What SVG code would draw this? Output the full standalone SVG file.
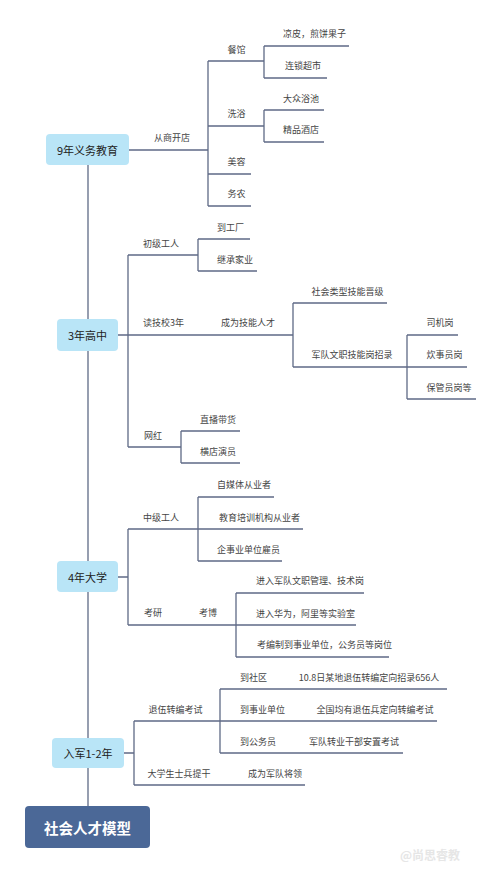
<svg xmlns="http://www.w3.org/2000/svg" width="500" height="873" viewBox="0 0 500 873">
<style>
.ln{stroke:#5f6a86;stroke-width:1.3;fill:none}
.t{font-family:"Noto Sans CJK SC","Liberation Sans",sans-serif;font-size:9px;fill:#444;dominant-baseline:central}
.c{text-anchor:middle}
.nb{fill:#b9e5f7}
.nt{font-family:"Noto Sans CJK SC","Liberation Sans",sans-serif;font-size:11px;fill:#222;text-anchor:middle;dominant-baseline:central}
</style>
<rect width="500" height="873" fill="#fff"/>
<g id="connectors">
<path class="ln" d="M88 165V806"/>
<!-- 9年 -->
<path class="ln" d="M129 150H208M208 61V206M208 61H264M208 126H264M208 174H251M208 206H251"/>
<path class="ln" d="M264 46V78M264 46H349M264 78H327"/>
<path class="ln" d="M264 110V142M264 110H324M264 142H324"/>
<!-- 3年高中 -->
<path class="ln" d="M118 335H128M128 255V447M128 255H198M128 335H293M128 447H181"/>
<path class="ln" d="M198 239V271M198 239H250M198 271H257"/>
<path class="ln" d="M293 303V367M293 303H387M293 367H407"/>
<path class="ln" d="M407 335V399M407 335H458M407 367H467M407 399H476"/>
<path class="ln" d="M181 431V463M181 431H240M181 463H240"/>
<!-- 4年大学 -->
<path class="ln" d="M118 577H128M128 529V625M128 529H198M128 625H236"/>
<path class="ln" d="M198 497V561M198 497H274M198 529H303M198 561H282"/>
<path class="ln" d="M236 593V657M236 593H364M236 625H356M236 657H389"/>
<!-- 入军 -->
<path class="ln" d="M124 753H134M134 721V785M134 721H220M134 785H305"/>
<path class="ln" d="M220 689V753M220 689H447M220 721H437M220 753H403"/>
</g>
<g id="n-9"><rect class="nb" x="46" y="134" width="83" height="31" rx="4"/><text class="nt" x="87.5" y="149.5">9年义务教育</text></g>
<g id="n-3"><rect class="nb" x="57" y="319" width="61" height="32" rx="4"/><text class="nt" x="87.5" y="335">3年高中</text></g>
<g id="n-4"><rect class="nb" x="57" y="561" width="61" height="31" rx="4"/><text class="nt" x="87.5" y="576.5">4年大学</text></g>
<g id="n-army"><rect class="nb" x="52" y="738" width="72" height="30" rx="4"/><text class="nt" x="88" y="753">入军1-2年</text></g>
<g id="n-root"><rect x="25" y="806" width="125" height="42" rx="4" fill="#4b6897"/><text class="nt" x="87.5" y="827" style="font-size:14.5px;font-weight:bold;fill:#fff">社会人才模型</text></g>
<g id="labels">
<text class="t c" x="172" y="137">从商开店</text>
<text class="t c" x="236.5" y="49">餐馆</text>
<text class="t c" x="236.5" y="113">洗浴</text>
<text class="t c" x="236.5" y="161">美容</text>
<text class="t c" x="236.5" y="193">务农</text>
<text class="t" x="283" y="33">凉皮，煎饼果子</text>
<text class="t" x="285" y="65">连锁超市</text>
<text class="t" x="283" y="98">大众浴池</text>
<text class="t" x="283" y="129">精品酒店</text>
<text class="t c" x="161" y="243">初级工人</text>
<text class="t" x="217" y="227">到工厂</text>
<text class="t" x="217" y="259">继承家业</text>
<text class="t c" x="163.5" y="322">读技校3年</text>
<text class="t c" x="248" y="322">成为技能人才</text>
<text class="t" x="311.5" y="291">社会类型技能晋级</text>
<text class="t" x="311.5" y="354">军队文职技能岗招录</text>
<text class="t" x="426.5" y="322">司机岗</text>
<text class="t" x="426.5" y="354">炊事员岗</text>
<text class="t" x="426.5" y="387">保管员岗等</text>
<text class="t c" x="153" y="435">网红</text>
<text class="t" x="200" y="419">直播带货</text>
<text class="t" x="200" y="451">横店演员</text>
<text class="t c" x="161" y="517">中级工人</text>
<text class="t" x="217" y="484">自媒体从业者</text>
<text class="t" x="219" y="517">教育培训机构从业者</text>
<text class="t" x="217" y="549">企事业单位雇员</text>
<text class="t c" x="153" y="612">考研</text>
<text class="t c" x="208" y="612">考博</text>
<text class="t" x="256" y="580">进入军队文职管理、技术岗</text>
<text class="t" x="256" y="613">进入华为，阿里等实验室</text>
<text class="t" x="257" y="644">考编制到事业单位，公务员等岗位</text>
<text class="t c" x="175.5" y="709">退伍转编考试</text>
<text class="t c" x="179" y="773">大学生士兵提干</text>
<text class="t" x="248" y="773">成为军队将领</text>
<text class="t" x="240" y="677">到社区</text>
<text class="t" x="240" y="709">到事业单位</text>
<text class="t" x="240" y="741">到公务员</text>
<text class="t c" x="369" y="677">10.8日某地退伍转编定向招录656人</text>
<text class="t c" x="375" y="709">全国均有退伍兵定向转编考试</text>
<text class="t c" x="354" y="741">军队转业干部安置考试</text>
</g>
<g id="watermark"><text x="400" y="854" style="font-family:'Noto Sans CJK SC',sans-serif;font-size:12px;font-weight:bold;fill:#e6e6e6;dominant-baseline:central">@尚思睿教</text></g>
</svg>
